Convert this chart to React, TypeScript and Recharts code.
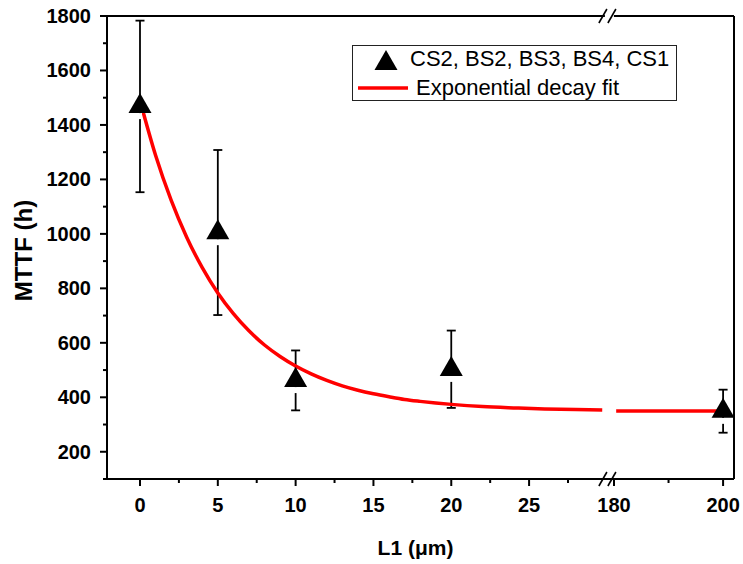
import React from 'react';
import { ComposedChart, Line, Scatter, XAxis, YAxis, ErrorBar, Legend, ReferenceLine } from 'recharts';

// ---- data ----
const pointX = [0, 5, 10, 20, 200];
const pointMTTF = [1468, 1005, 462, 503, 349];
const pointErr = [315, 303, 110, 142, 79];

const fitLeftX = [0, 1, 2, 3, 4, 5, 6, 7, 8, 9, 10, 11, 12, 13, 14, 15, 16, 17, 18, 19, 20, 22, 24, 26, 28, 29.7];
const fitLeftY = [1490, 1289, 1124, 988, 876, 783, 707, 644, 592, 550, 515, 486, 462, 442, 426, 413, 402, 392, 385, 379, 374, 366, 361, 357, 355, 353];
const fitRightX = [180.4, 200];
const fitRightY = [350, 350];

const xMajorTicks = [0, 5, 10, 15, 20, 25, 180, 200];
const xMinorTicks = [2.5, 7.5, 12.5, 17.5, 22.5, 27.5, 190];
const yTicks = [100, 200, 300, 400, 500, 600, 700, 800, 900, 1000, 1100, 1200, 1300, 1400, 1500, 1600, 1700, 1800];
const yLabelStep = 200;

const seriesName = 'CS2, BS2, BS3, BS4, CS1';
const fitName = 'Exponential decay fit';
const xTitle = 'L1 (\u03bcm)';
const yTitle = 'MTTF (h)';

// ---- broken x-axis mapping ----
const BREAK_LOW = 30;
const BREAK_HIGH = 178.7;
const RIGHT_RATIO = 0.3505;
const toAxis = (x: number) => (x <= BREAK_LOW ? x : BREAK_LOW + (x - BREAK_HIGH) * RIGHT_RATIO);
const X_MIN = -2.12;
const X_MAX = toAxis(202);

const points = pointX.map((x, i) => ({ u: toAxis(x), y: pointMTTF[i], err: pointErr[i] }));
const fitLeft = fitLeftX.map((x, i) => ({ u: toAxis(x), y: fitLeftY[i] }));
const fitRight = fitRightX.map((x, i) => ({ u: toAxis(x), y: fitRightY[i] }));
const xTickU = [...xMajorTicks, ...xMinorTicks].map(toAxis).sort((a, b) => a - b);

const FONT = '"Liberation Sans", Arial, Helvetica, sans-serif';

const XTick = (props: any) => {
  const { x, y, payload } = props;
  const v = payload.value;
  const idx = xMajorTicks.findIndex((t) => Math.abs(toAxis(t) - v) < 1e-6);
  const major = idx >= 0;
  return (
    <g>
      <line x1={x} y1={y} x2={x} y2={y + (major ? 7 : 4)} stroke="#000" strokeWidth={2} />
      {major && (
        <text x={x} y={y + 33} textAnchor="middle" fontFamily={FONT} fontWeight="bold" fontSize={20} fill="#000">
          {xMajorTicks[idx]}
        </text>
      )}
    </g>
  );
};

const YTick = (props: any) => {
  const { x, y, payload } = props;
  const v = payload.value;
  const major = v % yLabelStep === 0;
  return (
    <g>
      <line x1={x - (major ? 7 : 4)} y1={y} x2={x} y2={y} stroke="#000" strokeWidth={2} />
      {major && (
        <text x={x - 16} y={y + 7} textAnchor="end" fontFamily={FONT} fontWeight="bold" fontSize={20} fill="#000">
          {v}
        </text>
      )}
    </g>
  );
};

const XTitle = (props: any) => {
  const vb = props.viewBox || {};
  return (
    <text x={vb.x + vb.width / 2 - 5} y={vb.y + 76} textAnchor="middle" fontFamily={FONT} fontWeight="bold" fontSize={21} fill="#000">
      {xTitle}
    </text>
  );
};

const YTitle = (props: any) => {
  const vb = props.viewBox || {};
  const cx = 23;
  const cy = vb.y + vb.height / 2 + 3;
  return (
    <text x={cx} y={cy} transform={`rotate(-90, ${cx}, ${cy})`} textAnchor="middle" dominantBaseline="central" fontFamily={FONT} fontWeight="bold" fontSize={24} fill="#000">
      {yTitle}
    </text>
  );
};

const TriangleMarker = (props: any) => {
  const { cx, cy } = props;
  if (cx == null || cy == null) return null;
  const h = 20;
  const w = 23;
  return (
    <g>
      <line x1={cx} y1={cy + h / 3} x2={cx} y2={cy + h / 3 + 6} stroke="#fff" strokeWidth={4} />
      <path d={`M${cx},${cy - (2 * h) / 3} L${cx + w / 2},${cy + h / 3} L${cx - w / 2},${cy + h / 3} Z`} fill="#000" />
    </g>
  );
};

const BreakMarks = (props: any) => {
  const x = props.x1 ?? props.x;
  const yA = Math.min(props.y1, props.y2);
  const yB = Math.max(props.y1, props.y2);
  const mark = (yc: number) => (
    <g>
      <rect x={x - 2} y={yc - 4} width={9} height={8} fill="#fff" />
      <line x1={x - 8} y1={yc + 7} x2={x} y2={yc - 7} stroke="#000" strokeWidth={1.6} />
      <line x1={x + 1} y1={yc + 7} x2={x + 9} y2={yc - 7} stroke="#000" strokeWidth={1.6} />
    </g>
  );
  return (
    <g>
      {mark(yA)}
      {mark(yB)}
    </g>
  );
};

const LegendBox = () => (
  <div
    style={{
      width: 323,
      height: 54,
      border: '1.5px solid #222',
      background: '#fff',
      fontFamily: FONT,
      fontSize: 22,
      color: '#000',
      position: 'relative',
      boxSizing: 'content-box',
    }}
  >
    <svg width={50} height={28} style={{ position: 'absolute', left: 19, top: 0 }}>
      <path d="M14,4 L25.5,24 L2.5,24 Z" fill="#000" />
    </svg>
    <div style={{ position: 'absolute', left: 57, top: 0, lineHeight: '26px', whiteSpace: 'nowrap' }}>{seriesName}</div>
    <svg width={52} height={10} style={{ position: 'absolute', left: 5, top: 37 }}>
      <line x1={0} y1={5} x2={50} y2={5} stroke="#ff0000" strokeWidth={3.5} />
    </svg>
    <div style={{ position: 'absolute', left: 63, top: 29, lineHeight: '26px', whiteSpace: 'nowrap' }}>{fitName}</div>
  </div>
);

export default function App() {
  return (
    <div style={{ position: 'absolute', left: 0, top: 0, background: '#fff' }}>
      <ComposedChart width={743} height={564} margin={{ top: 16, right: 9, bottom: 0, left: 47 }}>
        <XAxis
          dataKey="u"
          type="number"
          domain={[X_MIN, X_MAX]}
          allowDataOverflow
          ticks={xTickU}
          interval={0}
          tick={<XTick />}
          tickLine={false}
          tickSize={0}
          tickMargin={0}
          height={85}
          axisLine={{ stroke: '#000', strokeWidth: 2 }}
          label={{ content: <XTitle /> }}
        />
        <YAxis
          type="number"
          domain={[100, 1800]}
          allowDataOverflow
          ticks={yTicks}
          interval={0}
          tick={<YTick />}
          tickLine={false}
          tickSize={0}
          tickMargin={0}
          width={60}
          axisLine={{ stroke: '#000', strokeWidth: 2 }}
          label={{ content: <YTitle /> }}
        />
        <ReferenceLine y={1800} stroke="#000" strokeWidth={2} ifOverflow="extendDomain" />
        <ReferenceLine x={X_MAX} stroke="#000" strokeWidth={2} ifOverflow="extendDomain" />
        <Scatter name={seriesName} data={points} dataKey="y" fill="#000" shape={<TriangleMarker />} isAnimationActive={false}>
          <ErrorBar dataKey="err" direction="y" width={4.5} stroke="#000" strokeWidth={1.8} isAnimationActive={false} />
        </Scatter>
        <Line name={fitName} data={fitLeft} dataKey="y" type="monotone" stroke="#ff0000" strokeWidth={3.5} dot={false} activeDot={false} isAnimationActive={false} />
        <Line name={fitName + ' '} legendType="none" data={fitRight} dataKey="y" type="linear" stroke="#ff0000" strokeWidth={3.5} dot={false} activeDot={false} isAnimationActive={false} />
        <ReferenceLine x={BREAK_LOW} stroke="none" shape={<BreakMarks />} ifOverflow="extendDomain" />
        <Legend
          layout="vertical"
          align="center"
          verticalAlign="middle"
          wrapperStyle={{ position: 'absolute', left: 352, top: 45, width: 326 }}
          content={<LegendBox />}
        />
      </ComposedChart>
    </div>
  );
}
